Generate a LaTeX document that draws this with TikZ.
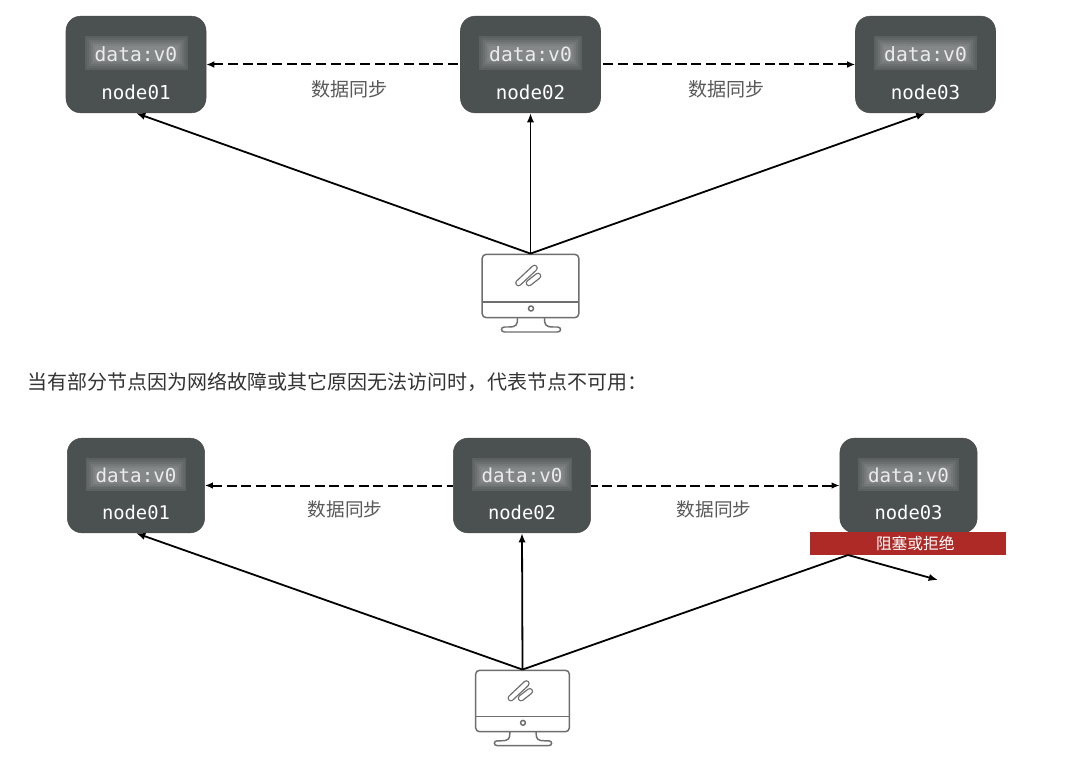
\documentclass[tikz,border=0pt]{standalone}
\usepackage{fontspec}
\setmainfont{Noto Sans CJK SC}
\setmonofont{DejaVu Sans Mono}
\usetikzlibrary{arrows.meta, positioning}
\definecolor{serverfill}{HTML}{4B5050}
\definecolor{blockred}{HTML}{AE2A27}
\definecolor{pctone}{HTML}{6E6E6E}
\tikzset{
	serverbox/.style={draw=black!70, line width=0.4pt, fill=serverfill, rounded corners=11pt, minimum width=105pt, minimum height=72.5pt, inner sep=0pt, transform shape},
	datatext/.style={font=\ttfamily\fontsize{14.7}{16}\selectfont, text=white!92!black, inner sep=0pt, transform shape},
	nametext/.style={font=\ttfamily\fontsize{14.4}{16}\selectfont, text=white, inner sep=0pt, transform shape},
	syncline/.style={line width=1.5pt, dash pattern=on 7.5pt off 3.5pt, {Latex[length=6pt,width=5pt]}-},
	reqline/.style={line width=1.35pt, -{Latex[length=7pt,width=5.5pt]}},
	synctext/.style={font=\fontsize{14.3}{16}\selectfont, text=black!65, inner sep=0pt},
	server/.pic={
		\node[serverbox] (-box) at (0,0) {};
		% Data label with a soft glow
		\foreach \d/\g in {0/9,2/13,4/18,6/23,8/28,10/32}{
			\fill[white!\g!serverfill] (-51.5+\d,-28+\d) rectangle (51.5-\d,6-\d);
		}
		\node[datatext] (-data) at (0,-10.5) {data:v0};
		\node[nametext] (-name) at (0,28) {#1};
	},
	monitor/.pic={
		\node[draw=pctone, line width=1.1pt, rounded corners=3pt, minimum width=72.5pt, minimum height=47.5pt, inner sep=0pt, transform shape] (-body) at (0,0) {};
		\draw[pctone, line width=1.1pt] (-48.5,16) -- (48.5,16);
		\draw[pctone, line width=1.1pt] (0.5,22.5) circle (2.5);
		% Stand
		\draw[pctone, line width=1.1pt] (-13,32) .. controls (-13,39) and (-14,41) .. (-22,41) -- (-26,41) .. controls (-30,41) and (-30,46) .. (-26,46) -- (27,46) .. controls (31,46) and (31,41) .. (27,41) -- (23,41) .. controls (15,41) and (14,39) .. (14,32);
		% Logo
		\draw[pctone, line width=5pt, line cap=round] (-12,-3) -- (4,-18);
		\draw[white, line width=3pt, line cap=round] (-12,-3) -- (4,-18);
		\draw[pctone, line width=5pt, line cap=round] (-1.5,-3) -- (7.5,-10);
		\draw[white, line width=3pt, line cap=round] (-1.5,-3) -- (7.5,-10);
	}
}

\begin{document}
\begin{tikzpicture}[x=0.75pt, y=-0.75pt]
	\useasboundingbox[fill=white] (0,0) rectangle (1070,767);

	% Top cluster
	\pic (a1) at (136,64.5) {server={node01}};
	\pic (a2) at (530.5,64.5) {server={node02}};
	\pic (a3) at (925.5,64.5) {server={node03}};
	\pic (pc1) at (530.5,286) {monitor};

	\draw[syncline] (a1-box.east) -- (a2-box.west);
	\draw[syncline] (a3-box.west) -- (a2-box.east);
	\node[synctext] (s1) at (349.5,89.5) {数据同步};
	\node[synctext] (s2) at (726.5,89.5) {数据同步};

	\draw[reqline] (pc1-body.north) -- (a1-box.south);
	\draw[reqline] (pc1-body.north) -- (a2-box.south);
	\draw[reqline] (pc1-body.north) -- (a3-box.south);

	% Caption
	\node[anchor=west, inner sep=0pt, text=black!80, font=\fontsize{15}{16}\selectfont] (caption) at (27,382) {当有部分节点因为网络故障或其它原因无法访问时，代表节点不可用：};

	% Bottom cluster
	\pic[scale=0.98] (b1) at (136,485.5) {server={node01}};
	\pic[scale=0.98] (b2) at (522,485.5) {server={node02}};
	\pic[scale=0.98] (b3) at (908.5,485.5) {server={node03}};
	\pic[scale=0.97] (pc2) at (522.5,701) {monitor};

	\draw[syncline] (b1-box.east) -- (b2-box.west);
	\draw[syncline] (b3-box.west) -- (b2-box.east);
	\node[synctext, font=\fontsize{14}{16}\selectfont] (s3) at (345,509.5) {数据同步};
	\node[synctext, font=\fontsize{14}{16}\selectfont] (s4) at (714,509.5) {数据同步};

	\node[fill=blockred, minimum width=147pt, minimum height=17pt, inner sep=0pt, text=white, font=\fontsize{11.8}{13}\selectfont] (block) at (908,543.5) {\hspace{11pt}阻塞或拒绝};
	\coordinate (hit) at (848,555);
	\coordinate (lost) at (938,580);

	\draw[reqline] (pc2-body.north) -- (b1-box.south);
	\draw[reqline] (pc2-body.north) -- (b2-box.south);
	\draw[reqline] (pc2-body.north) -- (hit) -- (lost);
\end{tikzpicture}
\end{document}
